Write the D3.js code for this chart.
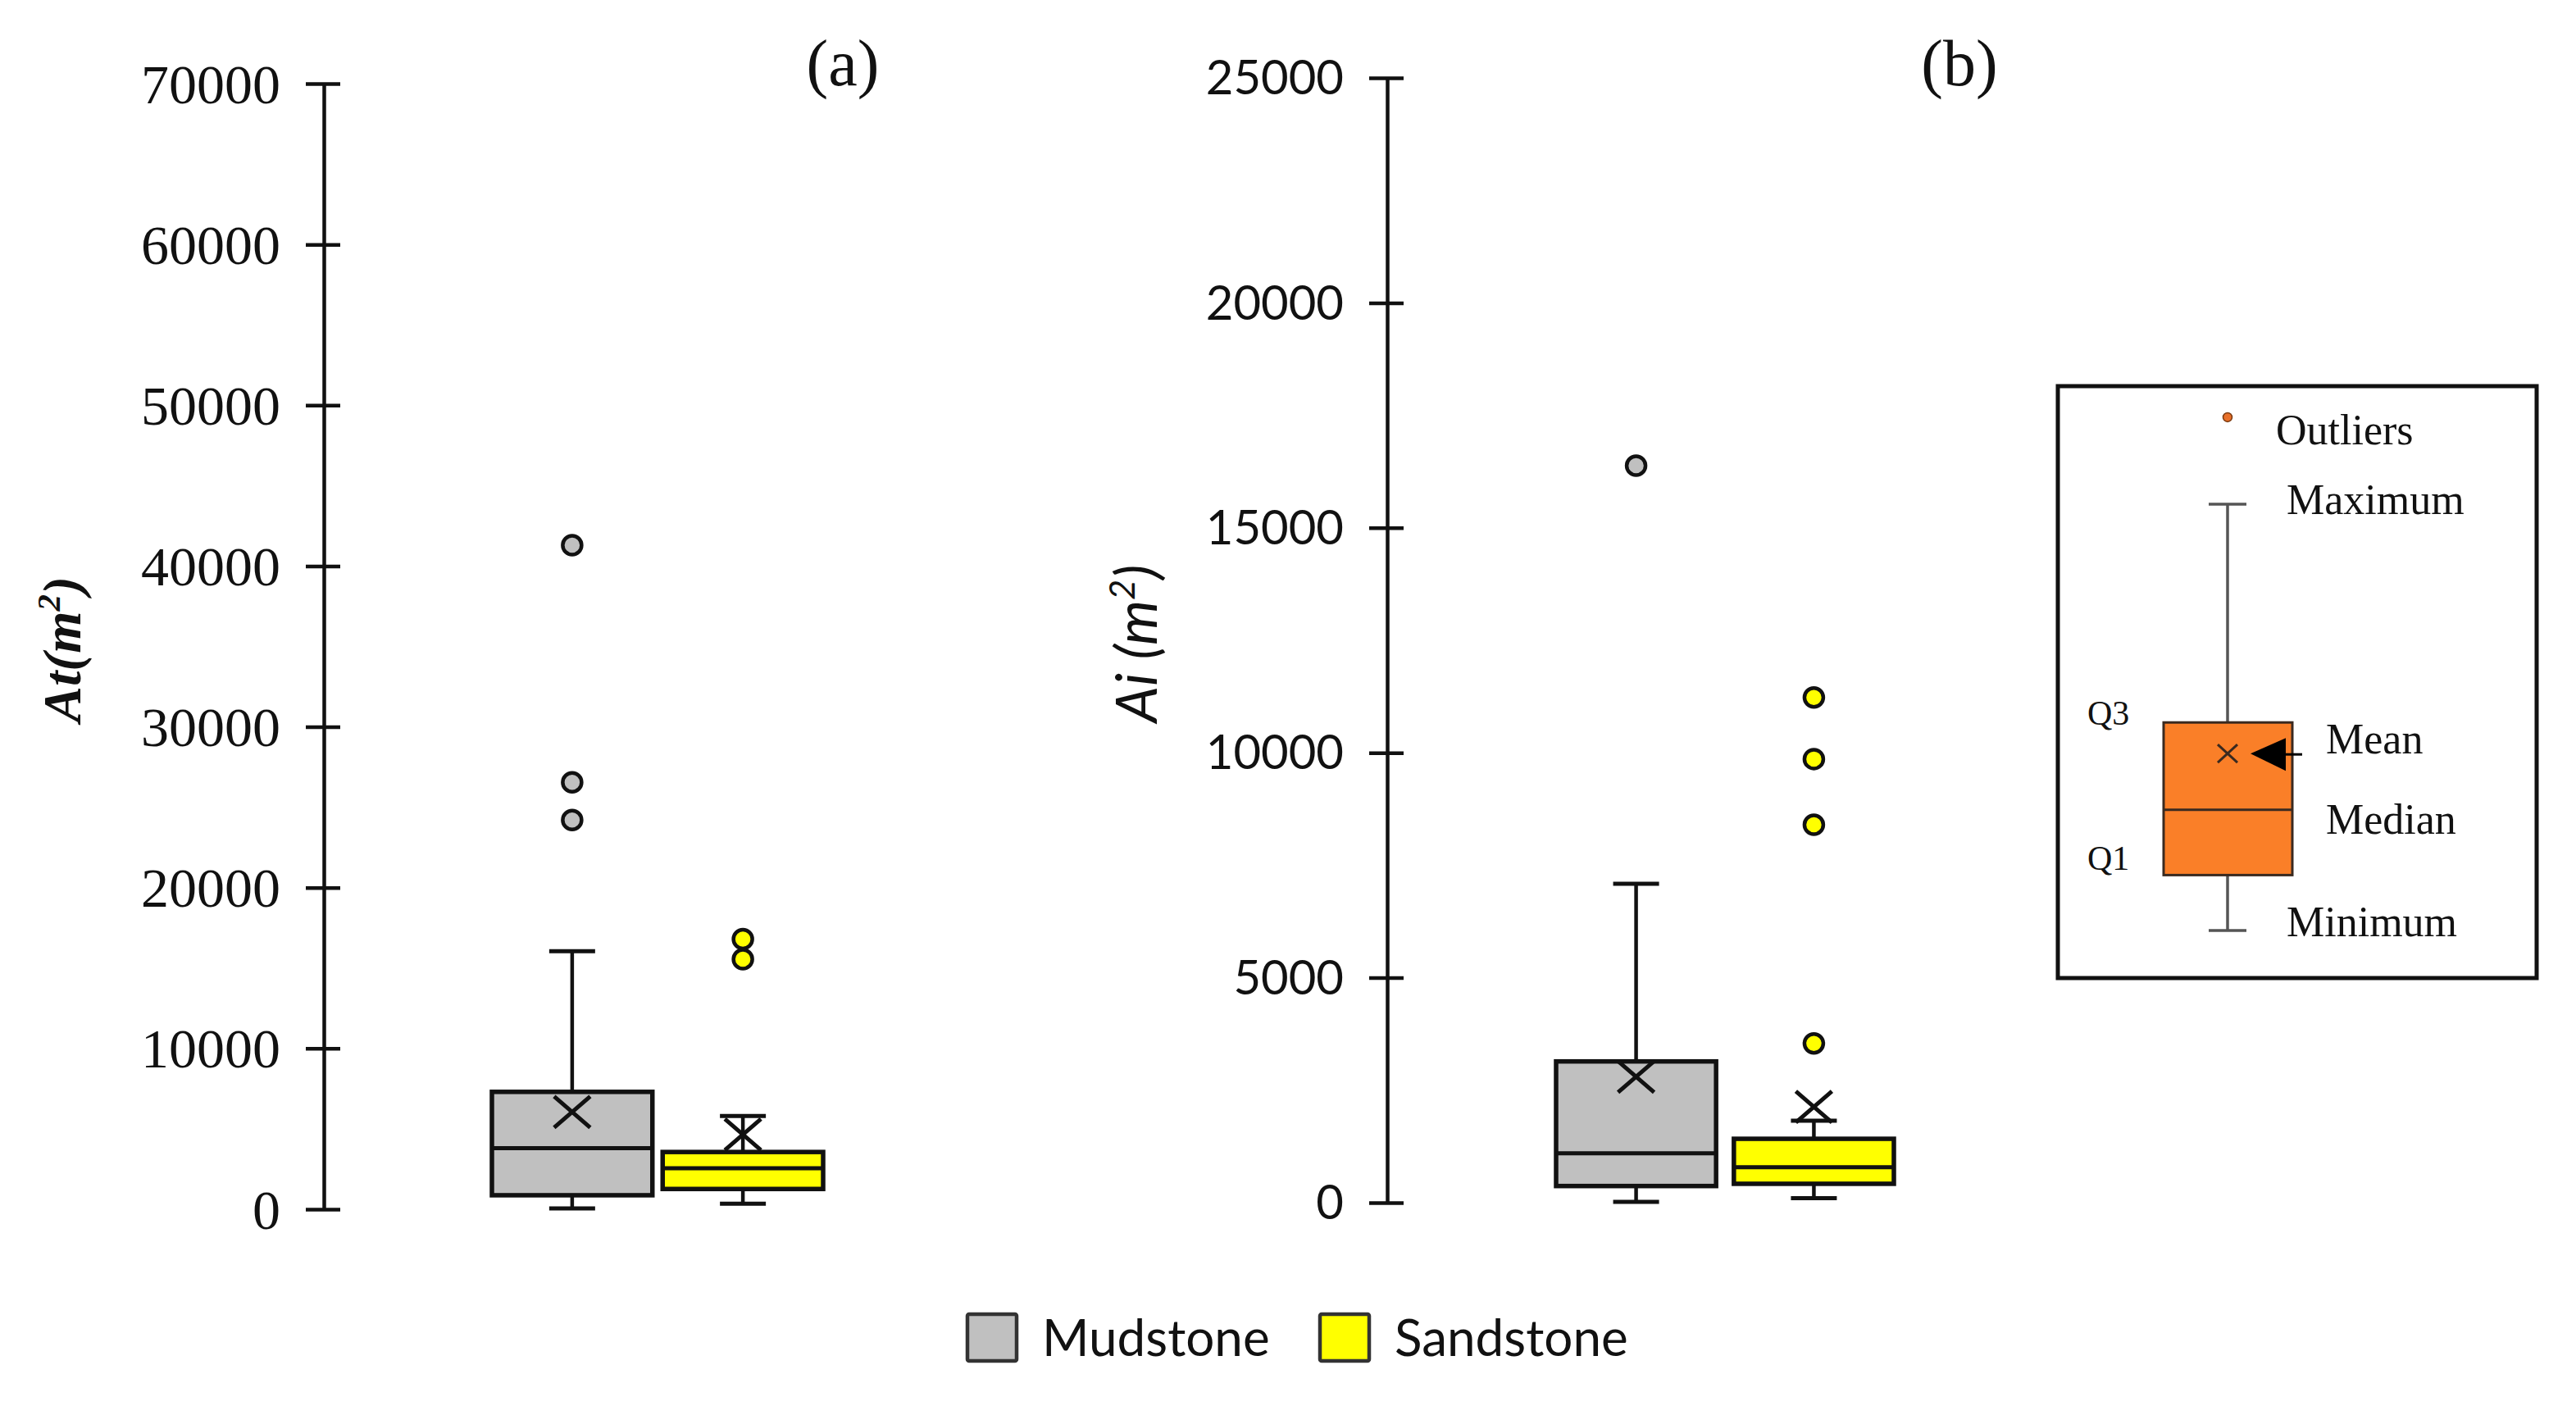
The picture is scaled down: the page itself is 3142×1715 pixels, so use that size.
<!DOCTYPE html>
<html>
<head>
<meta charset="utf-8">
<script src="https://cdn.jsdelivr.net/npm/d3@7"></script>
<style>
	body{margin:0;background:#fff;}
	svg{display:block;}
</style>
</head>
<body>
<div id="chart"></div>
<script>
var categories = ["Mudstone", "Sandstone"];
var fillColors = ["#c0c0c0", "#ffff00"];

// panel (a): At (m2)
var atTicks = [0, 10000, 20000, 30000, 40000, 50000, 60000, 70000];
var atMin = [50, 350];
var atQ1 = [870, 1260];
var atMedian = [3800, 2550];
var atQ3 = [7300, 3560];
var atMax = [16050, 5800];
var atMean = [6050, 4650];
var atOutliers = [[41300, 26550, 24200], [16800, 15550]];

// panel (b): Ai (m2)
var aiTicks = [0, 5000, 10000, 15000, 20000, 25000];
var aiMin = [20, 100];
var aiQ1 = [370, 420];
var aiMedian = [1100, 790];
var aiQ3 = [3140, 1420];
var aiMax = [7090, 1820];
var aiMean = [2800, 2130];
var aiOutliers = [[16380], [11230, 9860, 8400, 3540]];

// schematic box in the key
var keyLabels = ["Outliers", "Maximum", "Q3", "Mean", "Median", "Q1", "Minimum"];
var keyStats = {min: 0, q1: 13, median: 28.3, mean: 41.5, q3: 48.8, max: 100, outlier: 120.4};

var W = 3142, H = 1715;
var svg = d3.select("#chart").append("svg")
	.attr("width", W).attr("height", H);

var serif = "'Liberation Serif', 'Times New Roman', serif";
var sans = "Lato, 'Open Sans', sans-serif";

function drawPanel(opt){
	var y = d3.scaleLinear().domain([0, opt.ticks[opt.ticks.length-1]]).range(opt.yRange);
	var x = d3.scaleBand().domain(categories).range(opt.xRange).paddingInner(opt.pad);
	var g = svg.append("g");

	var axis = g.append("g")
		.attr("transform", "translate(" + opt.axisX + ",0)")
		.call(d3.axisLeft(y).tickValues(opt.ticks).tickSize(22).tickSizeOuter(0).tickPadding(31).tickFormat(d3.format("d")));
	axis.select(".domain").attr("stroke", "#111").attr("stroke-width", 4.5);
	axis.selectAll(".tick line").attr("x1", 20).attr("stroke", "#111").attr("stroke-width", 4.5);
	axis.selectAll(".tick text")
		.attr("font-family", opt.tickFont).attr("font-size", opt.tickSize)
		.attr("fill", "#111").attr("dy", "0.34em");

	// y label
	var lab = g.append("text")
		.attr("transform", "translate(" + opt.labelX + "," + opt.labelY + ") rotate(-90)")
		.attr("text-anchor", "middle")
		.attr("font-family", opt.labelFont).attr("font-size", opt.labelSize)
		.attr("font-style", "italic").attr("font-weight", opt.labelWeight).attr("fill", "#111");
	lab.append("tspan").text(opt.label);
	lab.append("tspan").attr("dy", -opt.labelSize*0.38).attr("font-size", opt.labelSize*0.62).text("2");
	lab.append("tspan").attr("dy", opt.labelSize*0.38).text(")");

	g.append("text")
		.attr("x", opt.titleX).attr("y", 104)
		.attr("text-anchor", "middle")
		.attr("font-family", serif).attr("font-size", 80).attr("fill", "#111")
		.text(opt.title);

	categories.forEach(function(c, i){
		var cx = x(c) + x.bandwidth()/2;
		var bw = x.bandwidth();
		// whiskers
		g.append("line").attr("x1", cx).attr("x2", cx)
			.attr("y1", y(opt.max[i])).attr("y2", y(opt.q3[i]))
			.attr("stroke", "#111").attr("stroke-width", 4.5);
		g.append("line").attr("x1", cx).attr("x2", cx)
			.attr("y1", y(opt.min[i])).attr("y2", y(opt.q1[i]))
			.attr("stroke", "#111").attr("stroke-width", 4.5);
		[opt.max[i], opt.min[i]].forEach(function(v){
			g.append("line").attr("x1", cx-28).attr("x2", cx+28)
				.attr("y1", y(v)).attr("y2", y(v))
				.attr("stroke", "#111").attr("stroke-width", 5);
		});
		// box
		g.append("rect")
			.attr("x", x(c)).attr("width", bw)
			.attr("y", y(opt.q3[i])).attr("height", y(opt.q1[i]) - y(opt.q3[i]))
			.attr("fill", fillColors[i]).attr("stroke", "#111").attr("stroke-width", 5.5);
		g.append("line").attr("x1", x(c)).attr("x2", x(c)+bw)
			.attr("y1", y(opt.median[i])).attr("y2", y(opt.median[i]))
			.attr("stroke", "#111").attr("stroke-width", 5);
		// mean
		var my = y(opt.mean[i]);
		g.append("path")
			.attr("d", "M" + (cx-22) + "," + (my-19) + "L" + (cx+22) + "," + (my+19)
				+ "M" + (cx+22) + "," + (my-19) + "L" + (cx-22) + "," + (my+19))
			.attr("stroke", "#111").attr("stroke-width", 5).attr("fill", "none");
		// outliers
		g.selectAll(null).data(opt.outliers[i]).enter().append("circle")
			.attr("cx", cx).attr("cy", function(d){ return y(d); })
			.attr("r", 11.5)
			.attr("fill", fillColors[i]).attr("stroke", "#111").attr("stroke-width", 4.5);
	});
}

drawPanel({
	ticks: atTicks, yRange: [1475, 102], xRange: [600, 1004], pad: 0.06, axisX: 395,
	min: atMin, q1: atQ1, median: atMedian, q3: atQ3, max: atMax, mean: atMean, outliers: atOutliers,
	tickFont: serif, tickSize: 68,
	label: "At(m", labelFont: serif, labelSize: 66, labelWeight: "bold", labelX: 98, labelY: 792,
	title: "(a)", titleX: 1028
});

drawPanel({
	ticks: aiTicks, yRange: [1467, 95], xRange: [1898, 2310], pad: 0.1, axisX: 1692,
	min: aiMin, q1: aiQ1, median: aiMedian, q3: aiQ3, max: aiMax, mean: aiMean, outliers: aiOutliers,
	tickFont: sans, tickSize: 58,
	label: "Ai (m", labelFont: sans, labelSize: 70, labelWeight: "normal", labelX: 1411, labelY: 785,
	title: "(b)", titleX: 2390
});

// bottom legend
var legX = d3.scalePoint().domain(categories).range([1180, 1610]);
var leg = svg.append("g");
categories.forEach(function(c, i){
	leg.append("rect")
		.attr("x", legX(c)).attr("y", 1603).attr("width", 60).attr("height", 57)
		.attr("fill", fillColors[i]).attr("stroke", "#333").attr("stroke-width", 4.5).attr("rx", 2);
	leg.append("text")
		.attr("x", legX(c) + 91).attr("y", 1654)
		.attr("font-family", sans).attr("font-size", 62).attr("fill", "#111")
		.text(c);
});

// key box explaining the box plot
var ky = d3.scaleLinear().domain([0, 100]).range([1135, 615]);
var kx = 2717;
var key = svg.append("g");
key.append("rect").attr("x", 2510).attr("y", 471).attr("width", 584).attr("height", 722)
	.attr("fill", "#fff").attr("stroke", "#111").attr("stroke-width", 5);
key.append("line").attr("x1", kx).attr("x2", kx).attr("y1", ky(keyStats.max)).attr("y2", ky(keyStats.min))
	.attr("stroke", "#555").attr("stroke-width", 3.5);
[keyStats.max, keyStats.min].forEach(function(v){
	key.append("line").attr("x1", kx-23).attr("x2", kx+23).attr("y1", ky(v)).attr("y2", ky(v))
		.attr("stroke", "#555").attr("stroke-width", 3.5);
});
key.append("rect").attr("x", kx-78).attr("width", 157)
	.attr("y", ky(keyStats.q3)).attr("height", ky(keyStats.q1) - ky(keyStats.q3))
	.attr("fill", "#fa7f28").attr("stroke", "#3a2a20").attr("stroke-width", 3);
key.append("line").attr("x1", kx-78).attr("x2", kx+79)
	.attr("y1", ky(keyStats.median)).attr("y2", ky(keyStats.median))
	.attr("stroke", "#3a2a20").attr("stroke-width", 3);
var kmy = ky(keyStats.mean);
key.append("path")
	.attr("d", "M" + (kx-12) + "," + (kmy-11) + "L" + (kx+12) + "," + (kmy+11)
		+ "M" + (kx+12) + "," + (kmy-11) + "L" + (kx-12) + "," + (kmy+11))
	.attr("stroke", "#3a2a20").attr("stroke-width", 3).attr("fill", "none");
key.append("path")
	.attr("d", "M" + (kx+28) + "," + kmy + "L" + (kx+71) + "," + (kmy-19) + "L" + (kx+71) + "," + (kmy+21) + "Z")
	.attr("fill", "#000");
key.append("line").attr("x1", kx+70).attr("x2", kx+91).attr("y1", kmy+1).attr("y2", kmy+1)
	.attr("stroke", "#000").attr("stroke-width", 3);
key.append("circle").attr("cx", kx).attr("cy", ky(keyStats.outlier)).attr("r", 5.5)
	.attr("fill", "#e8702a").attr("stroke", "#7a3a10").attr("stroke-width", 1.5);

var keyPos = [
	[kx+59, ky(keyStats.outlier)+33],
	[kx+72, ky(keyStats.max)+12],
	[2546, ky(keyStats.q3)+3],
	[kx+120, kmy],
	[kx+120, ky(keyStats.median)+29],
	[2546, ky(keyStats.q1)-6],
	[kx+72, ky(keyStats.min)+7]
];
key.selectAll(null).data(keyLabels).enter().append("text")
	.attr("x", function(d, i){ return keyPos[i][0]; })
	.attr("y", function(d, i){ return keyPos[i][1]; })
	.attr("font-family", serif)
	.attr("font-size", function(d){ return d.charAt(0)=="Q" ? 42 : 52; })
	.attr("fill", "#111")
	.text(function(d){ return d; });
</script>
</body>
</html>
